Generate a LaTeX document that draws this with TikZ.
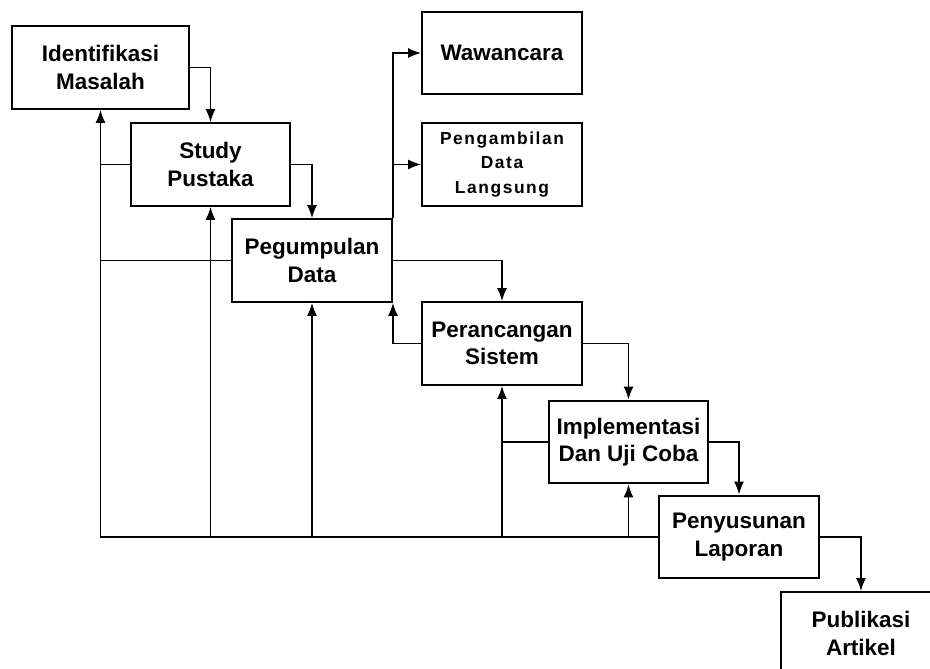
\documentclass[tikz,border=0pt]{standalone}
\usepackage{fontspec}
\setmainfont{Liberation Sans}
\usetikzlibrary{arrows.meta}

\begin{document}
\begin{tikzpicture}[
  x=0.02cm,
  y=-0.02cm,
  box/.style={
    draw,
    line width=0.04cm,
    minimum width=3.2cm,
    minimum height=1.66cm,
    inner sep=0,
    align=center,
    font=\fontsize{12.8}{15.6}\selectfont\bfseries
  },
  flow/.style={
    -{Latex[length=0.26cm,width=0.2cm]},
    line width=0.028cm
  },
  link/.style={
    line width=0.028cm
  }
]
  \useasboundingbox (0,0) rectangle (930,669);
  \clip (0,0) rectangle (930,669);
  \node[box,minimum width=3.54cm] (idm) at (100.5,67.5) {Identifikasi\\Masalah};
  \node[box] (stp) at (210.5,164.5) {Study\\Pustaka};
  \node[box] (pgd) at (312,260.5) {Pegumpulan\\Data};
  \node[box] (waw) at (502,53) {Wawancara};
  \node[box,
    font=\fontsize{9.9}{14.2}\selectfont\bfseries\addfontfeature{LetterSpace=9}]
    (pdl) at (502,164.5) {Pengambilan\\Data\\Langsung};
  \node[box] (prs) at (502,343.5) {Perancangan\\Sistem};
  \node[box] (iuc) at (628.5,442) {Implementasi\\Dan Uji Coba};
  \node[box] (pla) at (739,537) {Penyusunan\\Laporan};
  \node[box] (pub) at (861,633.5) {Publikasi\\Artikel};

  \draw[flow] (idm.east) -| (stp.north);
  \draw[flow] (stp.east) -| (pgd.north);
  \draw[flow] (pgd.east) -| (prs.north);
  \draw[flow] (prs.east) -| (iuc.north);
  \draw[flow] (iuc.east) -| (pla.north);
  \draw[flow] (pla.east) -| (pub.north);

  \draw[flow] (pgd.north east) |- (waw.west);
  \draw[flow] (pgd.north east) |- (pdl.west);

  \draw[flow] (pla.west) -| (idm.south);
  \draw[flow] (stp.south |- pla.west) -- (stp.south);
  \draw[flow] (pgd.south |- pla.west) -- (pgd.south);
  \draw[flow] (prs.south |- pla.west) -- (prs.south);
  \draw[flow] (iuc.south |- pla.west) -- (iuc.south);

  \draw[link] (stp.west) -- (stp.west -| idm.south);
  \draw[link] (pgd.west) -- (pgd.west -| idm.south);
  \draw[flow] (prs.west) -| (pgd.south east);
  \draw[link] (iuc.west) -- (iuc.west -| prs.south);
\end{tikzpicture}
\end{document}
